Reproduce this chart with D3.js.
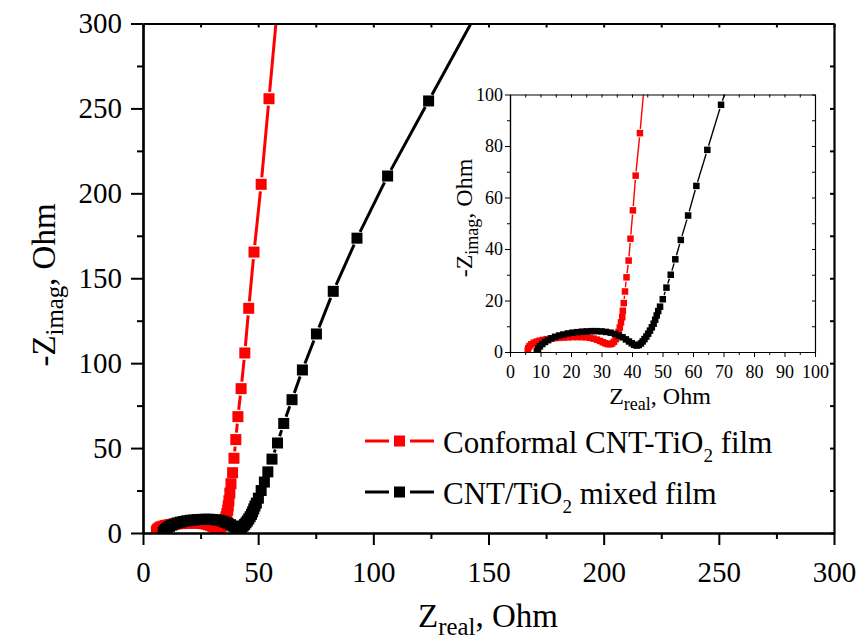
<!DOCTYPE html>
<html>
<head>
<meta charset="utf-8">
<script src="https://cdn.jsdelivr.net/npm/d3@7"></script>
<style>
  body { margin: 0; background: #fff; }
  text { font-family: "Liberation Serif", "Times New Roman", "DejaVu Serif", serif; fill: #000; }
</style>
</head>
<body>
<div id="chart"></div>
<script>
// data (Nyquist plot, Ohm)
const conformalZre = [5.8, 6.0, 6.4, 7.0, 7.8, 8.7, 9.7, 10.8, 12.0, 13.3, 14.7, 16.1, 17.6, 19.1, 20.6, 22.1, 23.5, 24.9, 26.2, 27.4, 28.5, 29.5, 30.4, 31.2, 32.0, 32.8, 33.5, 34.1, 34.7, 35.2, 35.6, 36.0, 36.4, 36.8, 37.0, 37.3, 37.7, 38.2, 38.9, 39.5, 40.3, 41.2, 42.6, 44.2, 45.9, 48.2, 51.3, 54.7, 59.2];
const conformalZim = [0.6, 1.5, 2.3, 3.0, 3.6, 4.0, 4.4, 4.7, 5.0, 5.2, 5.4, 5.5, 5.6, 5.7, 5.8, 5.8, 5.8, 5.7, 5.5, 5.2, 4.8, 4.3, 3.8, 3.4, 3.1, 3.0, 3.3, 4.0, 5.0, 6.3, 7.8, 9.5, 11.5, 13.5, 16.0, 19.0, 23.5, 29.0, 35.5, 44.0, 55.0, 68.5, 85.0, 106.0, 132.3, 165.4, 205.3, 255.7, 322.0];

const mixedZre = [8.8, 9.2, 9.8, 10.6, 11.5, 12.5, 13.6, 14.8, 16.1, 17.5, 19.0, 20.5, 22.0, 23.6, 25.2, 26.8, 28.4, 30.0, 31.5, 33.0, 34.4, 35.7, 36.9, 38.0, 39.0, 39.9, 40.7, 41.5, 42.2, 42.9, 43.5, 44.1, 44.7, 45.3, 45.9, 46.5, 47.1, 47.6, 48.1, 48.6, 49.2, 50.1, 51.3, 52.7, 54.2, 56.0, 58.4, 61.1, 64.7, 69.2, 75.3, 82.6, 92.9, 106.2, 124.0, 146.0];
const mixedZim = [0.4, 1.3, 2.2, 3.1, 3.9, 4.6, 5.3, 5.9, 6.4, 6.8, 7.2, 7.5, 7.7, 7.9, 8.0, 8.1, 8.1, 8.0, 7.8, 7.5, 7.0, 6.4, 5.7, 4.9, 4.1, 3.4, 2.8, 2.5, 2.7, 3.3, 4.1, 5.0, 6.0, 7.1, 8.3, 9.6, 11.0, 12.5, 14.2, 15.9, 17.6, 20.5, 25.0, 30.0, 36.0, 43.5, 53.0, 64.5, 78.5, 96.0, 117.2, 142.3, 173.6, 210.2, 254.4, 309.0];

const seriesLabels = [["Conformal CNT-TiO", "2", " film"], ["CNT/TiO", "2", " mixed film"]];
const seriesColors = ["#ff0000", "#000000"];

const mainMajor = [0, 50, 100, 150, 200, 250, 300];
const mainMinor = [25, 75, 125, 175, 225, 275];
const insetXMajor = [0, 10, 20, 30, 40, 50, 60, 70, 80, 90, 100];
const insetXMinor = [5, 15, 25, 35, 45, 55, 65, 75, 85, 95];
const insetYMajor = [0, 20, 40, 60, 80, 100];
const insetYMinor = [10, 30, 50, 70, 90];

const width = 860, height = 644;
const serif = '"Liberation Serif", "Times New Roman", "DejaVu Serif", serif';

const series = [
  { x: conformalZre, y: conformalZim, color: seriesColors[0], label: seriesLabels[0] },
  { x: mixedZre, y: mixedZim, color: seriesColors[1], label: seriesLabels[1] }
];

const svg = d3.select("#chart").append("svg")
  .attr("width", width)
  .attr("height", height)
  .style("font-family", serif);

// draws a framed plot with ticks, and the two series with gapped lines
function drawPanel(opts) {
  const x = d3.scaleLinear().domain([0, opts.max]).range([opts.left, opts.right]);
  const y = d3.scaleLinear().domain([0, opts.max]).range([opts.bottom, opts.top]);
  const g = svg.append("g");

  g.append("rect")
    .attr("x", opts.left).attr("y", opts.top)
    .attr("width", opts.right - opts.left).attr("height", opts.bottom - opts.top)
    .attr("fill", "#fff");

  const clipId = "clip-" + opts.name;
  svg.append("clipPath").attr("id", clipId)
    .append("rect")
    .attr("x", opts.left).attr("y", opts.top)
    .attr("width", opts.right - opts.left).attr("height", opts.bottom - opts.top);

  const plot = g.append("g").attr("clip-path", `url(#${clipId})`);

  series.forEach(s => {
    const pts = s.x.map((v, i) => [x(v), y(s.y[i])]);
    const gap = opts.marker / 2 + opts.gap;
    const segs = [];
    for (let i = 1; i < pts.length; i++) {
      const [x0, y0] = pts[i - 1], [x1, y1] = pts[i];
      const d = Math.hypot(x1 - x0, y1 - y0);
      if (d <= 2 * gap + 1) continue;
      const ux = (x1 - x0) / d, uy = (y1 - y0) / d;
      segs.push([x0 + ux * gap, y0 + uy * gap, x1 - ux * gap, y1 - uy * gap]);
    }
    plot.append("g").selectAll("line")
      .data(segs)
      .join("line")
      .attr("x1", d => d[0]).attr("y1", d => d[1])
      .attr("x2", d => d[2]).attr("y2", d => d[3])
      .attr("stroke", s.color)
      .attr("stroke-width", opts.lineWidth);
    plot.append("g").selectAll("rect")
      .data(pts)
      .join("rect")
      .attr("x", d => d[0] - opts.marker / 2)
      .attr("y", d => d[1] - opts.marker / 2)
      .attr("width", opts.marker)
      .attr("height", opts.marker)
      .attr("fill", s.color);
  });

  // axes
  const bottomMajor = d3.axisBottom(x).tickValues(opts.xMajor).tickSize(opts.majorLen).tickSizeOuter(0).tickPadding(opts.xPad);
  const bottomMinor = d3.axisBottom(x).tickValues(opts.xMinor).tickSize(opts.minorLen).tickSizeOuter(0).tickFormat("");
  const leftMajor = d3.axisLeft(y).tickValues(opts.yMajor).tickSize(opts.majorLen).tickSizeOuter(0).tickPadding(opts.yPad);
  const leftMinor = d3.axisLeft(y).tickValues(opts.yMinor).tickSize(opts.minorLen).tickSizeOuter(0).tickFormat("");
  const topTicks = d3.axisTop(x).tickValues(opts.xMajor.concat(opts.xMinor)).tickSize(-opts.inLen).tickSizeOuter(0).tickFormat("");
  const rightTicks = d3.axisRight(y).tickValues(opts.yMajor.concat(opts.yMinor)).tickSize(-opts.inLen).tickSizeOuter(0).tickFormat("");

  const axes = [
    [bottomMajor, `translate(0,${opts.bottom})`],
    [bottomMinor, `translate(0,${opts.bottom})`],
    [leftMajor, `translate(${opts.left},0)`],
    [leftMinor, `translate(${opts.left},0)`],
    [topTicks, `translate(0,${opts.top})`],
    [rightTicks, `translate(${opts.right},0)`]
  ];
  axes.forEach(([ax, tr]) => {
    const a = g.append("g").attr("transform", tr).call(ax)
      .attr("font-family", serif)
      .attr("font-size", opts.tickFont);
    a.selectAll("path.domain").attr("stroke", "#000").attr("stroke-width", opts.frame);
    a.selectAll(".tick line").attr("stroke", "#000").attr("stroke-width", opts.tickWidth);
    a.selectAll(".tick text").attr("fill", "#000");
  });

  // x title
  const xt = g.append("text")
    .attr("x", opts.xTitle[0]).attr("y", opts.xTitle[1])
    .attr("text-anchor", "middle")
    .style("font-size", opts.titleFont + "px");
  xt.append("tspan").text("Z");
  xt.append("tspan").attr("dy", opts.titleFont * 0.25).style("font-size", opts.titleFont * 0.75 + "px").text("real");
  xt.append("tspan").attr("dy", -opts.titleFont * 0.25).text(", Ohm");

  // y title
  const yt = g.append("text")
    .attr("transform", `translate(${opts.yTitle[0]},${opts.yTitle[1]}) rotate(-90)`)
    .attr("text-anchor", "middle")
    .style("font-size", opts.titleFont + "px");
  yt.append("tspan").text("-Z");
  yt.append("tspan").attr("dy", opts.titleFont * 0.25).style("font-size", opts.titleFont * 0.75 + "px").text("imag");
  yt.append("tspan").attr("dy", -opts.titleFont * 0.25).text(", Ohm");

  return { x, y };
}

drawPanel({
  name: "main", max: 300,
  left: 143, right: 834, top: 23.5, bottom: 533,
  xMajor: mainMajor, xMinor: mainMinor, yMajor: mainMajor, yMinor: mainMinor,
  majorLen: 12, minorLen: 6, inLen: 4, frame: 2.2, tickWidth: 2,
  xPad: 16, yPad: 9, tickFont: 29, titleFont: 33,
  marker: 11, gap: 1.5, lineWidth: 3,
  xTitle: [488, 627], yTitle: [55, 285]
});

drawPanel({
  name: "inset", max: 100,
  left: 510, right: 815, top: 94.5, bottom: 352,
  xMajor: insetXMajor, xMinor: insetXMinor, yMajor: insetYMajor, yMinor: insetYMinor,
  majorLen: 5, minorLen: 3, inLen: 3, frame: 1.2, tickWidth: 1,
  xPad: 8, yPad: 2, tickFont: 18, titleFont: 24,
  marker: 6.5, gap: 1, lineWidth: 1.4,
  xTitle: [660, 404], yTitle: [472, 218]
});

// legend
const legend = svg.append("g");
const legendRows = [441, 492];
series.forEach((s, i) => {
  const row = legend.append("g").attr("transform", `translate(0,${legendRows[i]})`);
  row.append("line").attr("x1", 365).attr("x2", 389).attr("stroke", s.color).attr("stroke-width", 3);
  row.append("line").attr("x1", 410).attr("x2", 434).attr("stroke", s.color).attr("stroke-width", 3);
  row.append("rect").attr("x", 394).attr("y", -5.5).attr("width", 11).attr("height", 11).attr("fill", s.color);
  const t = row.append("text").attr("x", 443).attr("y", 12).style("font-size", "31px");
  t.append("tspan").text(s.label[0]);
  t.append("tspan").attr("dy", 9).style("font-size", "19px").text(s.label[1]);
  t.append("tspan").attr("dy", -9).text(s.label[2]);
});
</script>
</body>
</html>
